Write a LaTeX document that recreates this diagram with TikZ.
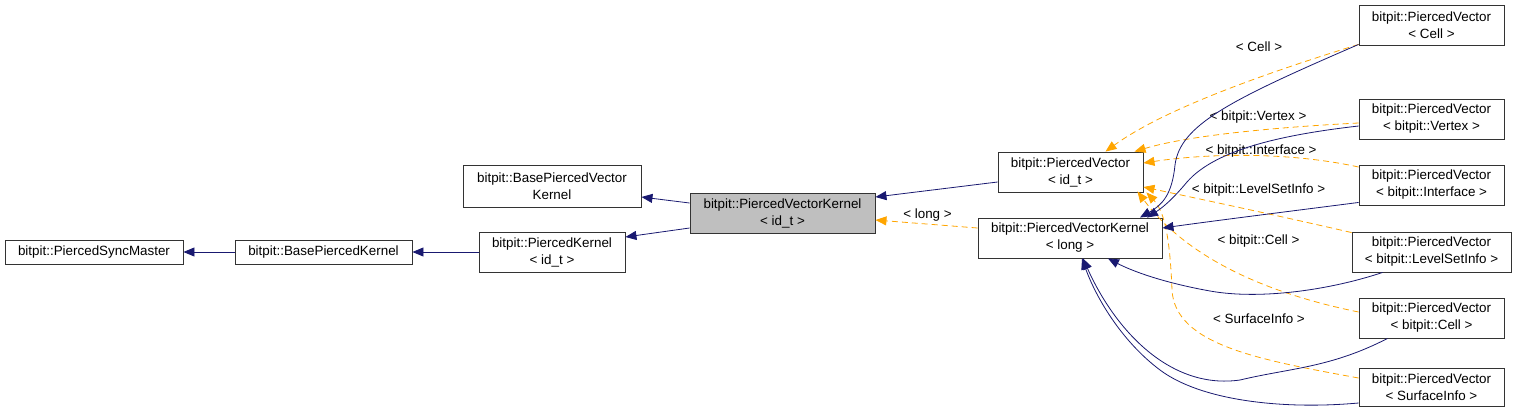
\documentclass[tikz,border=0pt]{standalone}
\usepackage{fontspec}
\setmainfont{Liberation Sans}
\usetikzlibrary{arrows.meta}
\definecolor{edgeblue}{HTML}{191970}
\definecolor{edgeorange}{HTML}{FFA500}
\definecolor{boxgray}{HTML}{BFBFBF}
\begin{document}
\begin{tikzpicture}[x=1pt,y=-1pt,font=\fontsize{13.4}{17}\selectfont,
  cls/.style={draw=black!80, line width=0.9pt, fill=white, align=center, inner sep=0pt, minimum width=145pt, minimum height=40pt},
  one/.style={minimum height=24pt},
  inh/.style={draw=edgeblue, line width=0.8pt, -{Triangle[length=11pt,width=9pt]}},
  tpl/.style={draw=edgeorange, line width=0.8pt, dash pattern=on 6pt off 4pt, -{Triangle[length=11pt,width=9pt]}},
  lbl/.style={inner sep=0pt}]
\useasboundingbox (0,0) rectangle (1517,413);
% nodes
\node[cls,one,minimum width=178pt] (sync) at (94,252) {bitpit::PiercedSyncMaster};
\node[cls,one,minimum width=177pt] (bpk) at (323.5,252) {bitpit::BasePiercedKernel};
\node[cls,minimum width=146pt] (pk) at (552,252) {bitpit::PiercedKernel\\< id\_t >};
\node[cls,minimum width=178pt,minimum height=42pt] (bpvk) at (552,186) {bitpit::BasePiercedVector\\Kernel};
\node[cls,minimum width=185pt,fill=boxgray] (pvk) at (782.5,213) {bitpit::PiercedVectorKernel\\< id\_t >};
\node[cls] (pv) at (1070.5,172) {bitpit::PiercedVector\\< id\_t >};
\node[cls,minimum width=184pt] (pvkl) at (1070,238) {bitpit::PiercedVectorKernel\\< long >};
\node[cls] (pvcell) at (1431.5,25) {bitpit::PiercedVector\\< Cell >};
\node[cls] (pvvert) at (1431.5,119) {bitpit::PiercedVector\\< bitpit::Vertex >};
\node[cls] (pvint) at (1431.5,185) {bitpit::PiercedVector\\< bitpit::Interface >};
\node[cls,minimum width=159pt] (pvlsi) at (1431.5,252) {bitpit::PiercedVector\\< bitpit::LevelSetInfo >};
\node[cls] (pvbcell) at (1431.5,318) {bitpit::PiercedVector\\< bitpit::Cell >};
\node[cls,minimum height=38pt] (pvsurf) at (1431.5,387) {bitpit::PiercedVector\\< SurfaceInfo >};
% labels
\node[lbl] (llong) at (927.5,215) {< long >};
\node[lbl] (lcell) at (1259,47) {< Cell >};
\node[lbl] (lvert) at (1258,117) {< bitpit::Vertex >};
\node[lbl] (lint) at (1261,151) {< bitpit::Interface >};
\node[lbl] (llsi) at (1258.5,190) {< bitpit::LevelSetInfo >};
\node[lbl] (lbcell) at (1258.5,241) {< bitpit::Cell >};
\node[lbl] (lsurf) at (1259,319) {< SurfaceInfo >};
% straight inheritance edges
\draw[inh] (bpk.west) -- (sync.east);
\draw[inh] (pk.west) -- (bpk.east);
\draw[inh] ([yshift=10pt]pvk.west) -- ([yshift=-11pt]bpvk.east);
\draw[inh] ([yshift=-15pt]pvk.west) -- ([yshift=15pt]pk.east);
\draw[inh] ([yshift=-10pt]pv.west) -- ([yshift=16pt]pvk.east);
\draw[tpl] ([yshift=10pt]pvkl.west) -- ([yshift=-7pt]pvk.east);
% orange template edges into PiercedVector<id_t>
\draw[tpl] ([yshift=1pt]pvcell.south west) .. controls (1250,78) and (1160,112) .. ([xshift=35pt]pv.north);
\draw[tpl] ([yshift=-4pt]pvvert.west) .. controls (1280,127) and (1190,135) .. ([xshift=64pt]pv.north);
\draw[tpl] ([yshift=18pt]pvint.west) .. controls (1290,152) and (1210,153) .. ([yshift=9pt]pv.east);
\draw[tpl] ([yshift=-1pt]pvlsi.north west) .. controls (1280,216) and (1200,199) .. ([yshift=-15pt]pv.east);
\draw[tpl] ([yshift=6pt]pvbcell.west) .. controls (1260,292) and (1185,255) .. ([xshift=-6pt,yshift=1pt]pv.south east);
\draw[tpl] ([yshift=9pt]pvsurf.west) .. controls (1260,360) and (1175,345) .. (1172,290) .. controls (1170,240) and (1165,212) .. ([xshift=3pt]pv.south east);
% blue inheritance edges into PiercedVectorKernel<long>
\draw[inh] ([yshift=1pt]pvcell.south west) .. controls (1230,100) and (1180,125) .. (1175,165) .. controls (1172,195) and (1162,205) .. ([xshift=70pt]pvkl.north);
\draw[inh] ([yshift=-7pt]pvvert.west) .. controls (1280,135) and (1215,150) .. (1187,182) .. controls (1172,200) and (1162,208) .. ([xshift=77pt]pvkl.north);
\draw[inh] ([yshift=3pt]pvint.south west) .. controls (1300,210) and (1220,220) .. ([yshift=10pt]pvkl.east);
\draw[inh] ([xshift=-49pt]pvlsi.south) .. controls (1330,290) and (1260,300) .. (1210,291) .. controls (1160,282) and (1130,270) .. ([xshift=38pt]pvkl.south);
\draw[inh] ([xshift=-44pt]pvbcell.south) .. controls (1330,368) and (1290,368) .. (1240,380) .. controls (1170,390) and (1115,330) .. ([xshift=13pt]pvkl.south);
\draw[inh] ([yshift=-16pt]pvsurf.west) .. controls (1280,410) and (1200,400) .. (1160,370) .. controls (1120,340) and (1095,295) .. ([xshift=12pt]pvkl.south);
\end{tikzpicture}
\end{document}
